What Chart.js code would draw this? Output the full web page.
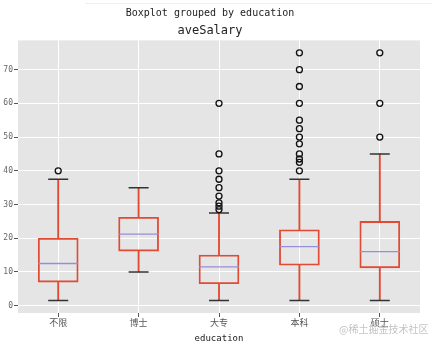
<!DOCTYPE html>
<html>
<head>
<meta charset="utf-8">
<script src="https://cdn.jsdelivr.net/npm/chart.js@4/dist/chart.umd.min.js"></script>
<style>
  body { margin: 0; background: #fff; }
  #wrap { position: relative; width: 432px; height: 344px; }
  #topline { position: absolute; left: 85px; top: 3px; width: 347px; height: 1px; background: #f0f0f0; }
  #mark { position: absolute; left: 339px; top: 321px; font: 10px "Noto Sans CJK SC"; color: #c4c4c4; white-space: nowrap; }
</style>
</head>
<body>
<div id="wrap">
  <canvas id="myChart"></canvas>
  <div id="topline"></div>
  <div id="mark">@稀土掘金技术社区</div>
</div>
<script>
let categories = ["不限", "博士", "大专", "本科", "硕士"];
let whiskerLow = [1.5, 10, 1.5, 1.5, 1.5];
let q1 = [7, 16.2, 6.5, 12, 11.2];
let median = [12.5, 21.2, 11.5, 17.5, 16];
let q3 = [20, 26.2, 15, 22.5, 25];
let whiskerHigh = [37.5, 35, 27.5, 37.5, 45];
let outliers = [
  [40],
  [],
  [28.5, 29.5, 30.5, 32.5, 35, 37.5, 40, 45, 60],
  [40, 42.5, 43.5, 45, 48, 50, 52.5, 55, 60, 65, 70, 75],
  [50, 60, 75],
];
let yTicks = [0, 10, 20, 30, 40, 50, 60, 70];

let boxColor = "#E24A33";
let mono = "'DejaVu Sans Mono'";
let cjk = "'Noto Sans CJK SC'";

// grey ggplot-like panel behind the plot
let panelBg = {
  id: "panelBg",
  beforeDraw(chart) {
    let a = chart.chartArea;
    chart.ctx.save();
    chart.ctx.fillStyle = "#E5E5E5";
    chart.ctx.fillRect(a.left, a.top, a.right - a.left, a.bottom - a.top);
    chart.ctx.restore();
  },
};

let pts = (arr) => categories.map((c, i) => ({ x: c, y: arr[i] }));
let outlierPts = [];
categories.forEach((c, i) => outliers[i].forEach((v) => outlierPts.push({ x: c, y: v })));

let ctx = document.getElementById("myChart").getContext("2d");
let myChart = new Chart(ctx, {
  type: "bar",
  data: {
    labels: categories,
    datasets: [
      {
        label: "box",
        data: categories.map((c, i) => [q1[i], q3[i]]),
        backgroundColor: "rgba(0,0,0,0)",
        borderColor: boxColor,
        borderWidth: 1.2,
        borderSkipped: false,
        barThickness: 40,
        grouped: false,
        order: 3,
      },
      {
        label: "lowWhisker",
        data: categories.map((c, i) => [whiskerLow[i], q1[i]]),
        backgroundColor: boxColor,
        borderWidth: 0,
        barThickness: 1.2,
        grouped: false,
        order: 4,
      },
      {
        label: "highWhisker",
        data: categories.map((c, i) => [q3[i], whiskerHigh[i]]),
        backgroundColor: boxColor,
        borderWidth: 0,
        barThickness: 1.2,
        grouped: false,
        order: 4,
      },
      {
        type: "line",
        label: "caps",
        data: pts(whiskerLow).concat(pts(whiskerHigh)),
        showLine: false,
        pointStyle: "line",
        pointRadius: 10,
        borderColor: "#333333",
        borderWidth: 1.5,
        order: 1,
      },
      {
        type: "line",
        label: "median",
        data: pts(median),
        showLine: false,
        pointStyle: "line",
        pointRadius: 20,
        borderColor: "#988ED5",
        borderWidth: 1.3,
        order: 0,
      },
      {
        type: "line",
        label: "outliers",
        data: outlierPts,
        showLine: false,
        pointStyle: "circle",
        pointRadius: 3,
        backgroundColor: "rgba(0,0,0,0)",
        borderColor: "#111111",
        borderWidth: 1.3,
        order: 0,
      },
    ],
  },
  options: {
    responsive: true,
    maintainAspectRatio: false,
    animation: false,
    layout: { autoPadding: false, padding: { right: 12, left: 0, top: 0, bottom: 0 } },
    plugins: {
      legend: { display: false },
      tooltip: { enabled: false },
      title: {
        display: true,
        text: "Boxplot grouped by education",
        color: "#222",
        font: { family: mono, size: 10, weight: "normal" },
        padding: { top: 7, bottom: 2 },
      },
      subtitle: {
        display: true,
        text: "aveSalary",
        color: "#222",
        font: { family: mono, size: 12, weight: "normal" },
        padding: { top: 3, bottom: 2 },
      },
    },
    scales: {
      x: {
        offset: true,
        grid: { color: "#ffffff", offset: false, tickLength: 4, tickColor: "#555555" },
        border: { display: false },
        ticks: { color: "#555555", font: { family: cjk, size: 9 }, padding: 0 },
        title: {
          display: true,
          text: "education",
          color: "#222",
          font: { family: mono, size: 9 },
          padding: 0,
        },
        afterFit(scale) {
          scale.height = 31;
          scale.paddingLeft = 0;
          scale.paddingRight = 0;
        },
      },
      y: {
        min: -2.175,
        max: 78.675,
        grid: { color: "#ffffff", tickLength: 4, tickColor: "#555555" },
        border: { display: false },
        ticks: {
          stepSize: 10,
          includeBounds: false,
          color: "#666666",
          font: { family: mono, size: 8 },
          padding: 1,
        },
        afterBuildTicks(scale) {
          scale.ticks = yTicks.map((v) => ({ value: v }));
        },
        afterFit(scale) {
          scale.width = 18;
          scale.paddingTop = 0;
          scale.paddingBottom = 0;
        },
      },
    },
  },
  plugins: [panelBg],
});
</script>
</body>
</html>
